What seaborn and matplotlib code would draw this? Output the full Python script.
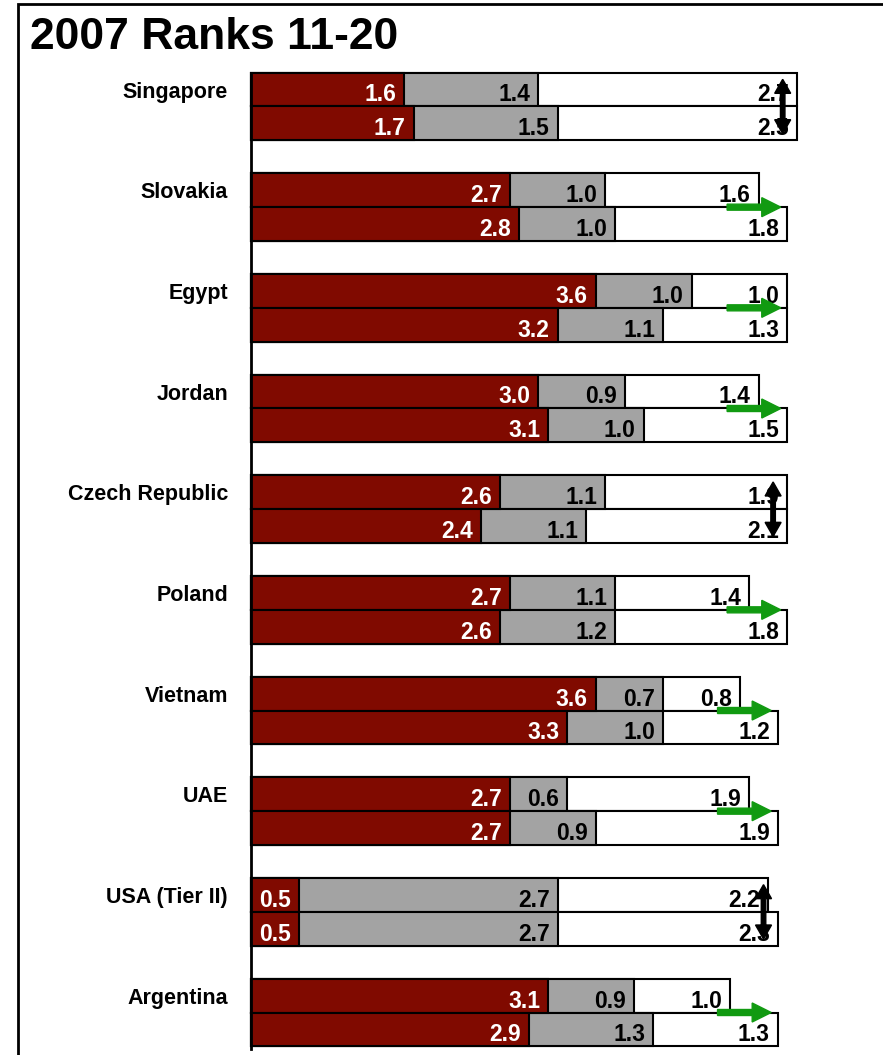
import numpy as np
import pandas as pd
import matplotlib
matplotlib.use('Agg')
import matplotlib.pyplot as plt
from matplotlib.patches import Rectangle
import seaborn as sns

sns.set_style('white')
plt.rcParams['font.family'] = ['Liberation Sans', 'DejaVu Sans']
plt.rcParams['text.color'] = 'black'
plt.rcParams['ytick.color'] = 'black'
plt.rcParams['ytick.labelcolor'] = 'black'

RED = '#800a00'
GRAY = '#a3a3a3'
GREEN = '#119a11'

countries = ["Singapore", "Slovakia", "Egypt", "Jordan", "Czech Republic",
             "Poland", "Vietnam", "UAE", "USA (Tier II)", "Argentina"]
# upper bar of each pair
red_top = [1.6, 2.7, 3.6, 3.0, 2.6, 2.7, 3.6, 2.7, 0.5, 3.1]
gray_top = [1.4, 1.0, 1.0, 0.9, 1.1, 1.1, 0.7, 0.6, 2.7, 0.9]
white_top = [2.7, 1.6, 1.0, 1.4, 1.9, 1.4, 0.8, 1.9, 2.2, 1.0]
# lower bar of each pair
red_bot = [1.7, 2.8, 3.2, 3.1, 2.4, 2.6, 3.3, 2.7, 0.5, 2.9]
gray_bot = [1.5, 1.0, 1.1, 1.0, 1.1, 1.2, 1.0, 0.9, 2.7, 1.3]
white_bot = [2.5, 1.8, 1.3, 1.5, 2.1, 1.8, 1.2, 1.9, 2.3, 1.3]
# 'up' = green arrow, 'swap' = black double arrow
change = ['swap', 'up', 'up', 'up', 'swap', 'up', 'up', 'up', 'swap', 'up']

rows = []
for i, c in enumerate(countries):
    for row, r, g, w in [('top', red_top[i], gray_top[i], white_top[i]),
                         ('bottom', red_bot[i], gray_bot[i], white_bot[i])]:
        rows.append({'country': c, 'row': row, 'red': r, 'gray': g, 'white': w,
                     'c1': r, 'c2': r + g, 'c3': r + g + w})
df = pd.DataFrame(rows)

fig = plt.figure(figsize=(8.83, 10.55), dpi=100)
ax = fig.add_axes([251/883, 1-1049/1055, 1-251/883, (1049-73)/1055])

# stacked bars: draw cumulative totals, widest first
for col, color in [('c3', 'white'), ('c2', GRAY), ('c1', RED)]:
    sns.barplot(data=df, x=col, y='country', hue='row', hue_order=['top', 'bottom'],
                order=countries, orient='h', palette=[color, color], width=0.67,
                dodge=True, edgecolor='black', linewidth=1.5, errorbar=None,
                legend=False, saturation=1, ax=ax)
for p in ax.patches:
    p.set_clip_on(False)

PX_X = 95.8
PX_Y = 100.67
ax.set_xlim(0, (883-251)/PX_X)
ax.set_ylim(9 + (1049-1012.5)/PX_Y, -(106.5-73)/PX_Y)

half = 0.67/4
for i, c in enumerate(countries):
    sub = df[df['country'] == c]
    for sign, (_, rr) in zip([-1, 1], sub.iterrows()):
        y = i + sign*half
        for val, end, tc in [(rr['red'], rr['c1'], 'white'),
                             (rr['gray'], rr['c2'], 'black'),
                             (rr['white'], rr['c3'], 'black')]:
            ax.annotate('%.1f' % val, xy=(end, y + half), xytext=(-5.8, 3.6),
                        textcoords='offset points', ha='right', va='baseline',
                        color=tc, fontsize=16.5, fontweight='bold', zorder=5)

    tot_top = red_top[i] + gray_top[i] + white_top[i]
    tot_bot = red_bot[i] + gray_bot[i] + white_bot[i]
    if change[i] == 'up':
        head = tot_bot - 0.07
        ax.arrow(head - 0.56, i, 0.56, 0, width=6/PX_Y, head_width=19/PX_Y,
                 head_length=19/PX_X, length_includes_head=True, fc=GREEN,
                 ec=GREEN, zorder=10, clip_on=False)
    else:
        xa = max(tot_top, tot_bot) - 0.15
        for d in [-0.27, 0.27]:
            ax.arrow(xa, i, 0, d, width=4.5/PX_X, head_width=16/PX_X,
                     head_length=14/PX_Y, length_includes_head=True, fc='black',
                     ec='black', zorder=10, clip_on=False)

for s in ['top', 'right', 'bottom']:
    ax.spines[s].set_visible(False)
ax.spines['left'].set_linewidth(2)
ax.spines['left'].set_color('black')
ax.set_xticks([])
ax.set_xlabel('')
ax.set_ylabel('')
ax.set_yticks(np.arange(len(countries)) - half)
ax.set_yticklabels(countries, fontweight='bold', fontsize=15.5, color='black')
ax.tick_params(axis='y', length=0, pad=16.5)

fig.text(30/883, 1-49/1055, '2007 Ranks 11-20', fontsize=32, fontweight='bold',
         ha='left', va='baseline', color='black')
fig.add_artist(Rectangle((18/883, -0.05), 1.0, 1 - 4/1055 + 0.05,
                         transform=fig.transFigure, fill=False, lw=2, ec='black'))

fig.savefig('out.png', dpi=100)
